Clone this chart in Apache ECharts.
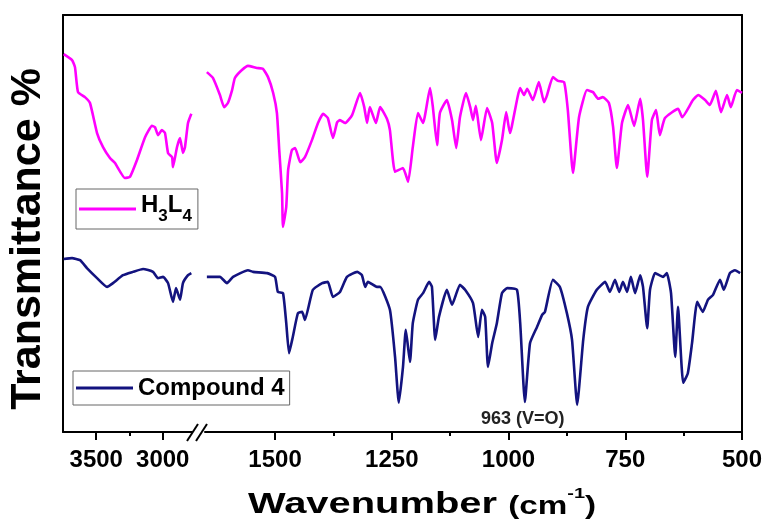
<!DOCTYPE html>
<html lang="en">
  <head>
    <meta charset="UTF-8" />
    <title>IR spectra</title>
    <style>
      * {
        padding: 0;
        margin: 0;
      }
      #chart {
        width: 769px;
        height: 528px;
        background: #fff;
      }
    </style>
    <script src="https://cdn.jsdelivr.net/npm/echarts@6/dist/echarts.min.js"></script>
  </head>
  <body>
    <div id="chart"></div>
    <script type="text/javascript">
      // H3L4, high wavenumber part (left of the axis break)
      const h3l4HighWn = [3745, 3682, 3660, 3637, 3585, 3547, 3494, 3449, 3397, 3359, 3284, 3246, 3194, 3133,
        3081, 3058, 3036, 3006, 2983, 2960, 2930, 2923, 2893, 2870, 2848, 2833, 2810, 2785]
      const h3l4HighT = [90.6, 89.2, 87.5, 81.5, 80.3, 78.9, 71.7, 68.3, 65.7, 64.5, 60.9, 61.2, 65.2, 70.7,
        73.4, 73.1, 71.2, 72.4, 71.7, 66.9, 65.9, 63.5, 68.3, 70.5, 66.9, 68.3, 74.1, 76.3]

      // H3L4, fingerprint part (right of the break)
      const h3l4LowWn = [1646, 1633, 1618, 1609, 1601, 1592, 1586, 1571, 1558, 1539, 1526, 1515, 1504, 1496,
        1491, 1485, 1483, 1476, 1472, 1464, 1457, 1446, 1436, 1421, 1408, 1397, 1387, 1376, 1367, 1361,
        1350, 1335, 1318, 1309, 1303, 1297, 1284, 1275, 1260, 1254, 1243, 1226, 1215, 1205, 1194, 1183,
        1168, 1162, 1153, 1147, 1132, 1121, 1112, 1104, 1091, 1082, 1076, 1070, 1059, 1046, 1035, 1025,
        1014, 1005, 997, 975, 967, 960, 948, 935, 924, 918, 905, 894, 881, 873, 862, 849, 832, 819, 808,
        798, 785, 776, 768, 757, 744, 731, 718, 712, 703, 693, 684, 676, 665, 637, 628, 605, 594, 579,
        569, 556, 545, 532, 524, 511, 500]
      const h3l4LowT = [86.3, 84.9, 80.8, 77.9, 78.9, 82.0, 84.9, 86.8, 87.8, 87.3, 87.1, 85.1, 81.3, 76.5,
        67.6, 57.3, 49.2, 54.0, 62.8, 67.6, 68.1, 64.7, 65.9, 70.0, 74.1, 76.3, 75.3, 70.5, 74.3, 74.8,
        74.1, 76.0, 81.3, 77.9, 74.1, 77.9, 74.1, 77.9, 75.0, 72.4, 62.4, 63.3, 60.0, 68.3, 76.5, 74.1,
        82.5, 77.9, 68.8, 76.5, 79.6, 74.8, 68.1, 75.5, 81.3, 77.9, 74.8, 78.2, 70.0, 77.7, 74.1, 64.5,
        70.0, 76.7, 71.7, 82.5, 80.8, 82.3, 79.6, 83.9, 79.1, 80.6, 85.1, 84.2, 83.9, 77.2, 62.1, 75.5,
        82.0, 81.5, 79.9, 80.3, 78.9, 73.1, 63.3, 74.1, 78.4, 73.4, 79.9, 74.8, 61.2, 74.8, 77.2, 71.2,
        75.3, 77.5, 75.5, 79.6, 80.8, 79.6, 78.4, 81.8, 76.7, 80.8, 77.9, 82.0, 81.3]

      // Compound 4
      const cpd4HighWn = [3745, 3682, 3622, 3570, 3494, 3419, 3374, 3299, 3224, 3148, 3073, 3036, 2998, 2960,
        2923, 2900, 2870, 2848, 2810, 2785]
      const cpd4HighT = [41.5, 41.7, 41.2, 39.3, 36.9, 34.8, 35.7, 37.6, 38.4, 39.1, 38.4, 36.9, 37.2, 35.7,
        31.2, 34.5, 31.7, 35.7, 37.6, 38.1]

      const cpd4LowWn = [1646, 1618, 1603, 1590, 1558, 1547, 1517, 1500, 1494, 1483, 1476, 1470, 1462, 1451,
        1442, 1436, 1419, 1399, 1387, 1376, 1361, 1346, 1324, 1314, 1307, 1301, 1282, 1275, 1254, 1243,
        1235, 1226, 1220, 1211, 1205, 1194, 1183, 1170, 1164, 1157, 1149, 1132, 1121, 1104, 1093, 1076,
        1065, 1057, 1050, 1044, 1035, 1025, 1014, 1003, 982, 975, 965, 954, 939, 928, 922, 905, 890, 875,
        864, 853, 840, 830, 811, 793, 783, 772, 763, 755, 746, 738, 729, 718, 712, 703, 697, 686, 669,
        661, 652, 643, 637, 626, 616, 607, 596, 584, 573, 562, 547, 539, 526, 515, 504]
      const cpd4LowT = [37.2, 37.2, 35.7, 37.2, 38.8, 38.4, 38.1, 37.2, 33.6, 33.3, 26.1, 18.9, 22.8, 28.5,
        28.8, 26.9, 34.1, 35.7, 36.0, 32.4, 33.6, 37.2, 38.4, 37.6, 34.8, 36.0, 34.8, 34.8, 29.3, 18.0,
        7.0, 15.6, 24.5, 16.8, 26.1, 31.7, 33.3, 36.0, 34.8, 22.1, 27.6, 34.1, 30.5, 35.3, 34.1, 30.9,
        22.8, 29.3, 27.6, 15.6, 21.3, 26.1, 33.3, 34.5, 34.1, 26.1, 7.2, 21.3, 25.2, 28.1, 28.8, 36.5,
        34.8, 28.5, 22.1, 6.5, 22.1, 30.0, 34.1, 36.0, 33.6, 36.5, 33.6, 36.0, 33.6, 37.2, 33.3, 37.6,
        34.8, 24.9, 34.1, 38.1, 37.2, 38.1, 33.3, 18.0, 30.0, 11.8, 14.1, 21.3, 31.2, 28.8, 31.7, 32.9,
        36.5, 34.1, 38.1, 38.8, 38.1]

      // tick labels
      const highTicks = [3000, 3500]
      const highMinor = [3250]
      const lowTicks = [500, 750, 1000, 1250, 1500]
      const lowMinor = [625, 875, 1125, 1375]

      const zip = (xs, ys) => xs.map((x, i) => [x, ys[i]])

      const FONT = 'Liberation Sans, Arial, sans-serif'
      const MAGENTA = '#ff00ff'
      const NAVY = '#13137f'

      const chart = echarts.init(document.getElementById('chart'))

      const mainAxis = (grid, min, max, ticks) => ({
        type: 'value',
        gridIndex: grid,
        position: 'bottom',
        inverse: true,
        min: min,
        max: max,
        axisLine: { show: true, onZero: false, lineStyle: { color: '#000', width: 2 } },
        axisTick: { show: true, inside: false, length: 8, customValues: ticks, lineStyle: { color: '#000', width: 2 } },
        axisLabel: {
          customValues: ticks,
          formatter: (v) => String(v),
          margin: 16,
          color: '#000',
          fontSize: 24,
          fontWeight: 'bold',
          fontFamily: FONT,
        },
        splitLine: { show: false },
      })
      const minorAxis = (grid, min, max, ticks) => ({
        type: 'value',
        gridIndex: grid,
        position: 'bottom',
        inverse: true,
        min: min,
        max: max,
        axisLine: { show: false, onZero: false },
        axisTick: { show: true, inside: false, length: 4, customValues: ticks, lineStyle: { color: '#000', width: 2 } },
        axisLabel: { show: false },
        splitLine: { show: false },
      })
      const yAx = (grid, pos, showLine) => ({
        type: 'value',
        gridIndex: grid,
        position: pos,
        min: 0,
        max: 100,
        axisLine: { show: showLine, onZero: false, lineStyle: { color: '#000', width: 2 } },
        axisTick: { show: false },
        axisLabel: { show: false },
        splitLine: { show: false },
      })

      const lineSeries = (name, color, xi, yi, data) => ({
        name: name,
        type: 'line',
        xAxisIndex: xi,
        yAxisIndex: yi,
        data: data,
        symbol: 'none',
        smooth: 0.15,
        lineStyle: { color: color, width: 2.6 },
        itemStyle: { color: color },
      })

      const legendBox = (name, left, top, pad) => ({
        data: [name],
        left: left,
        top: top,
        orient: 'horizontal',
        selectedMode: false,
        icon: 'rect',
        itemWidth: 57,
        itemHeight: 3,
        padding: pad,
        borderColor: '#666',
        borderWidth: 1,
        formatter: (n) => (n === 'H3L4' ? '{m|H}{s|3}{m|L}{s|4}' : n),
        textStyle: {
          color: '#000',
          fontSize: 24,
          fontWeight: 'bold',
          fontFamily: FONT,
          rich: {
            m: { fontSize: 24, fontWeight: 'bold', fontFamily: FONT, color: '#000', lineHeight: 32, verticalAlign: 'top' },
            s: { fontSize: 17, fontWeight: 'bold', fontFamily: FONT, color: '#000', lineHeight: 14, verticalAlign: 'bottom' },
          },
        },
      })

      const cpd4Low = lineSeries('Compound 4', NAVY, 2, 1, zip(cpd4LowWn, cpd4LowT))
      cpd4Low.markPoint = {
        symbolSize: 0,
        silent: true,
        data: [{ coord: [963, 3.1] }],
        label: {
          show: true,
          position: 'inside',
          offset: [-3, 0],
          formatter: '963 (V=O)',
          color: '#222',
          fontSize: 18,
          fontWeight: 'bold',
          fontFamily: FONT,
        },
      }

      const option = {
        animation: false,
        backgroundColor: '#fff',
        grid: [
          { left: 63, top: 15, width: 129, height: 417 },
          { left: 205, top: 15, width: 537, height: 417 },
          { left: 63, top: 15, width: 679, height: 417 },
        ],
        xAxis: [
          mainAxis(0, 2780, 3750, highTicks),
          minorAxis(0, 2780, 3750, highMinor),
          mainAxis(1, 500, 1650, lowTicks),
          minorAxis(1, 500, 1650, lowMinor),
          {
            type: 'value',
            gridIndex: 2,
            position: 'top',
            min: 0,
            max: 1,
            axisLine: { show: true, onZero: false, lineStyle: { color: '#000', width: 2 } },
            axisTick: { show: false },
            axisLabel: { show: false },
            splitLine: { show: false },
          },
        ],
        yAxis: [yAx(0, 'left', true), yAx(1, 'right', true), yAx(2, 'left', false)],
        legend: [legendBox('H3L4', 76, 189, [4, 6, 4, 3]), legendBox('Compound 4', 73, 371, [5, 5, 5, 3])],
        series: [
          lineSeries('H3L4', MAGENTA, 0, 0, zip(h3l4HighWn, h3l4HighT)),
          lineSeries('H3L4', MAGENTA, 2, 1, zip(h3l4LowWn, h3l4LowT)),
          lineSeries('Compound 4', NAVY, 0, 0, zip(cpd4HighWn, cpd4HighT)),
          cpd4Low,
        ],
        graphic: [
          // axis break marks
          { type: 'line', shape: { x1: 187, y1: 441, x2: 198, y2: 424 }, style: { stroke: '#000', lineWidth: 2 } },
          { type: 'line', shape: { x1: 196, y1: 441, x2: 207, y2: 424 }, style: { stroke: '#000', lineWidth: 2 } },
          {
            type: 'text',
            x: 28,
            y: 239,
            rotation: Math.PI / 2,
            style: {
              text: 'Transmittance %',
              fill: '#000',
              font: 'bold 43px ' + FONT,
              align: 'center',
              verticalAlign: 'middle',
            },
          },
          {
            type: 'text',
            x: 248,
            y: 486,
            scaleX: 1.33,
            style: {
              text: '{a|Wavenumber} {b|(cm}{c|-1}{b|)}',
              fill: '#000',
              font: 'bold 30px ' + FONT,
              align: 'left',
              verticalAlign: 'top',
              rich: {
                a: { fontSize: 30, fontWeight: 'bold', fontFamily: FONT, fill: '#000', lineHeight: 34, verticalAlign: 'bottom' },
                b: { fontSize: 25, fontWeight: 'bold', fontFamily: FONT, fill: '#000', lineHeight: 30, verticalAlign: 'bottom' },
                c: { fontSize: 15, fontWeight: 'bold', fontFamily: FONT, fill: '#000', lineHeight: 30, verticalAlign: 'top' },
              },
            },
          },
        ],
      }

      chart.setOption(option)
    </script>
  </body>
</html>
